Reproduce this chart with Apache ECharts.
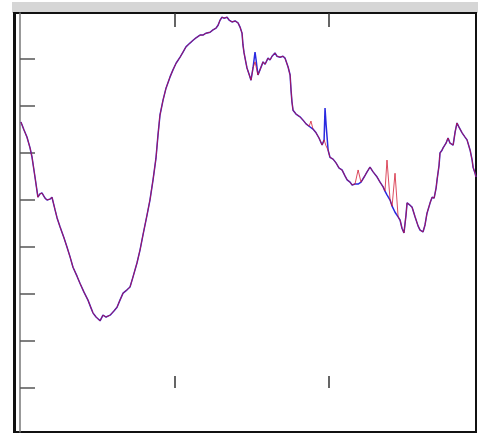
<!DOCTYPE html>
<html><head><meta charset="utf-8">
<script src="https://cdn.jsdelivr.net/npm/echarts@6/dist/echarts.min.js"></script>
<style>html,body{margin:0;padding:0;background:#fff}#c{width:478px;height:435px}</style>
</head><body><div id="c"></div>
<script>
var xs = [0.6,2.6,4.5,6.5,7.8,9.7,11.6,12.9,14.2,16.2,17.5,19.4,20.7,22.7,24.0,25.9,28.5,30.4,32.4,34.3,36.9,38.8,41.4,44.0,46.0,47.2,49.2,51.8,53.7,55.7,58.3,60.8,62.8,64.7,66.7,69.3,71.2,73.1,75.7,77.7,79.6,82.2,84.1,86.1,88.0,89.3,90.6,92.6,94.5,97.1,99.0,101.0,103.6,105.5,107.4,110.0,112.0,113.9,116.5,118.4,120.4,123.0,124.9,126.9,128.2,129.5,130.7,132.0,134.0,135.3,137.2,139.2,141.1,142.4,143.7,144.3,145.0,146.3,146.9,148.2,149.5,150.8,152.1,152.8,154.0,155.3,157.3,158.6,160.5,161.8,163.1,165.0,166.3,168.3,170.2,171.5,173.5,174.8,175.4,176.0,176.7,178.6,181.2,183.2,185.1,187.1,188.3,189.6,191.6,193.5,195.5,196.8,197.4,198.1,199.4,200.6,202.6,204.5,206.5,208.4,210.4,211.7,213.6,214.9,216.8,218.8,220.7,222.7,224.6,226.5,228.5,231.1,233.0,235.0,236.2,237.5,239.5,240.8,242.7,244.7,246.0,247.2,248.5,249.8,250.5,252.4,253.7,255.7,257.6,258.9,260.8,262.1,263.4,265.4,266.7,268.0,269.3,269.9,271.2,271.8,273.1,273.8,275.7,277.0,278.3,280.3,281.6,282.8,284.1,286.1,288.0,289.3,291.3,292.6,293.2,294.5,295.1];
var blueY = [56.6,54.9,53.4,51.1,49.1,44.9,40.6,41.3,41.5,40.4,40.0,40.2,40.6,37.9,36.2,34.3,31.9,30.0,27.9,25.7,23.8,22.3,20.4,18.7,17.0,16.0,15.1,14.3,15.5,15.1,15.5,16.4,17.2,18.7,20.2,20.9,21.5,23.6,26.6,29.4,32.6,36.8,40.0,44.3,48.9,53.8,58.1,61.3,63.8,66.2,67.7,69.1,70.4,71.5,72.6,73.4,74.0,74.5,75.1,75.1,75.5,75.7,76.2,76.6,77.2,78.3,78.9,78.7,78.9,78.3,77.9,78.1,77.7,76.8,75.5,73.0,71.3,69.1,68.1,66.8,65.5,68.1,71.5,69.8,66.6,67.7,69.4,68.9,70.2,69.8,70.6,71.3,70.6,70.4,70.6,70.2,68.3,66.6,63.4,60.9,59.1,58.3,57.7,57.0,56.2,55.7,55.5,55.1,54.3,53.2,51.7,52.8,59.6,56.0,50.6,49.1,48.7,47.9,46.8,46.4,45.1,44.3,43.8,43.2,43.4,43.4,43.8,44.9,46.0,47.0,46.0,44.9,43.8,42.8,41.9,41.1,40.0,38.7,37.4,36.4,35.7,34.0,33.0,36.8,39.4,38.9,38.5,36.4,34.5,33.6,33.2,34.7,37.2,39.4,40.6,40.4,42.6,44.3,47.4,50.0,50.6,51.1,52.1,53.2,52.1,51.7,54.5,56.4,55.5,54.3,53.4,52.8,50.6,48.5,47.0,45.7,44.9];
var redY = [56.6,54.9,53.4,51.1,49.1,44.9,40.6,41.3,41.5,40.4,40.0,40.2,40.6,37.9,36.2,34.3,31.9,30.0,27.9,25.7,23.8,22.3,20.4,18.7,17.0,16.0,15.1,14.3,15.5,15.1,15.5,16.4,17.2,18.7,20.2,20.9,21.5,23.6,26.6,29.4,32.6,36.8,40.0,44.3,48.9,53.8,58.1,61.3,63.8,66.2,67.7,69.1,70.4,71.5,72.6,73.4,74.0,74.5,75.1,75.1,75.5,75.7,76.2,76.6,77.2,78.3,78.9,78.7,78.9,78.3,77.9,78.1,77.7,76.8,75.5,73.0,71.3,69.1,68.1,66.8,65.5,68.1,69.4,69.8,66.6,67.7,69.4,68.9,70.2,69.8,70.6,71.3,70.6,70.4,70.6,70.2,68.3,66.6,63.4,60.9,59.1,58.3,57.7,57.0,56.2,55.7,56.8,55.1,54.3,53.2,51.7,52.8,52.8,51.5,50.6,49.1,48.7,47.9,46.8,46.4,45.1,44.3,43.8,43.2,43.4,46.4,43.8,44.9,46.0,47.0,46.0,44.9,43.8,42.8,41.9,48.5,40.0,38.7,45.7,36.4,35.7,34.0,33.0,36.8,39.4,38.9,38.5,36.4,34.5,33.6,33.2,34.7,37.2,39.4,40.6,40.4,42.6,44.3,47.4,50.0,50.6,51.1,52.1,53.2,52.1,51.7,54.5,56.4,55.5,54.3,53.4,52.8,50.6,48.5,47.0,45.7,44.9];
var yTicks = [0,10,20,30,40,50,60,70];
var xTicks = [100,200];

function pairs(ys){ return xs.map(function(x,i){ return [x, ys[i]]; }); }

var chart = echarts.init(document.getElementById('c'), null, {renderer:'canvas'});
chart.setOption({
  animation:false,
  backgroundColor:'#fff',
  graphic:[
    {type:'rect', z:-1, shape:{x:12,y:2,width:466,height:11}, style:{fill:'#d6d6d6'}},
    {type:'line', z:100, shape:{x1:14.5,y1:13,x2:14.5,y2:433}, style:{stroke:'#111',lineWidth:3}}
  ],
  grid:{left:14,right:2,top:13,bottom:3,show:true,borderColor:'#111',borderWidth:2,backgroundColor:'#fff'},
  xAxis:[
    {type:'value',min:-3.88,max:295.1,position:'bottom',
     axisLine:{show:false},splitLine:{show:false},axisLabel:{show:false},
     axisTick:{show:true,inside:true,length:12,customValues:xTicks,lineStyle:{color:'#333',width:1.5}}},
    {type:'value',min:-3.88,max:295.1,position:'top',
     axisLine:{show:false},splitLine:{show:false},axisLabel:{show:false},
     axisTick:{show:true,inside:true,length:14,customValues:xTicks,lineStyle:{color:'#333',width:1.5}}}
  ],
  yAxis:{type:'value',min:-9.36,max:79.8,
    axisLine:{show:true,onZero:true,lineStyle:{color:'#777',width:1.5}},
    splitLine:{show:false},axisLabel:{show:false},
    axisTick:{show:true,inside:true,length:15,customValues:yTicks,lineStyle:{color:'#555',width:1.5}}},
  series:[
    {type:'line',data:pairs(blueY),showSymbol:false,symbol:'none',lineStyle:{color:'#2a2ae0',width:1.5},z:2},
    {type:'line',data:pairs(redY),showSymbol:false,symbol:'none',lineStyle:{color:'#d0102a',width:1,opacity:0.75},z:3}
  ]
});
</script></body></html>
